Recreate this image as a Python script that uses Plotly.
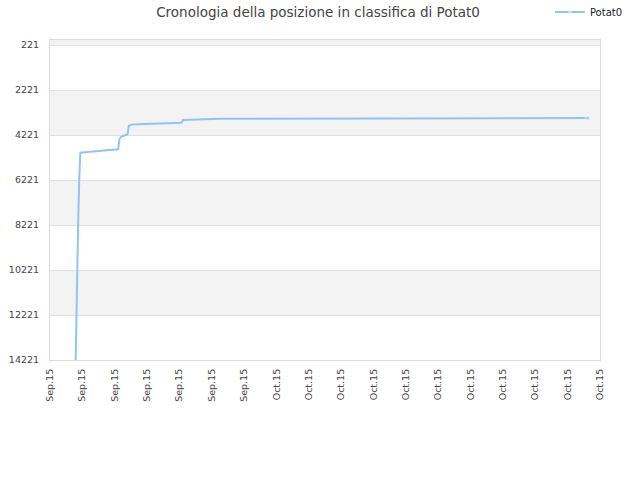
import plotly.graph_objects as go

# Rank history of Potat0 (lower is better)
dates = [
    "2015-09-19 14:00", "2015-09-19 14:40", "2015-09-19 16:30", "2015-09-19 18:00",
    "2015-09-19 19:30", "2015-09-19 21:00", "2015-09-20 04:00", "2015-09-20 20:00",
    "2015-09-21 12:00", "2015-09-22 05:00", "2015-09-22 07:00", "2015-09-22 09:30",
    "2015-09-22 19:00", "2015-09-22 21:00", "2015-09-23 01:00", "2015-09-23 21:00",
    "2015-09-25 10:00", "2015-09-26 03:00", "2015-09-26 05:00", "2015-09-27 00:30",
    "2015-09-28 12:00", "2015-10-21 06:00",
]
ranks = [
    14400, 12930, 10350, 7780,
    6090, 5010, 4990, 4960,
    4900, 4860, 4410, 4300,
    4190, 3810, 3760, 3730,
    3700, 3675, 3555, 3525,
    3497, 3470,
]

y_ticks = [221, 2221, 4221, 6221, 8221, 10221, 12221, 14221]

fig = go.Figure()

fig.add_trace(go.Scatter(
    x=dates, y=ranks, name="Potat0",
    mode="lines+markers",
    line=dict(color="#90c4f5", width=2),
    marker=dict(size=[0] * (len(ranks) - 1) + [4], color="#90c4f5", symbol="square"),
))

# alternating grey bands like the original chart
bands = [(y_ticks[0] - 2000, y_ticks[0])] + [
    (y_ticks[i], y_ticks[i + 1]) for i in range(1, len(y_ticks) - 1, 2)
]
for lo, hi in bands:
    fig.add_shape(type="rect", xref="paper", yref="y", x0=0, x1=1,
                  y0=max(lo, -1), y1=hi, fillcolor="#f3f3f3",
                  line=dict(width=0), layer="below")

fig.update_layout(
    width=640, height=480,
    margin=dict(l=50, r=40, t=40, b=120, autoexpand=False),
    paper_bgcolor="white", plot_bgcolor="white",
    font=dict(family="DejaVu Sans", size=10, color="#444"),
    title=dict(text="Cronologia della posizione in classifica di Potat0",
               x=0.497, xanchor="center", y=0.975, yanchor="middle",
               font=dict(size=13.5, color="#444")),
    showlegend=True,
    legend=dict(x=0.909, xanchor="left", y=1.0875, yanchor="middle",
                font=dict(size=10, color="#222"), bgcolor="rgba(0,0,0,0)"),
    xaxis=dict(
        type="date", range=["2015-09-18", "2015-10-22"],
        tick0="2015-09-18", dtick=2 * 86400000, tickformat="%b.%y",
        tickangle=-90, showgrid=False, zeroline=False,
        showline=True, linecolor="#dcdcdc", mirror=True, automargin=False,
        ticks="", ticklabelstandoff=4, tickfont=dict(size=9.5, color="#444"),
    ),
    yaxis=dict(
        range=[14221, -1], tickvals=y_ticks, tickformat="d",
        showgrid=True, gridcolor="#e0e0e0", zeroline=False,
        showline=True, linecolor="#dcdcdc", mirror=True, automargin=False,
        ticks="", ticklabelstandoff=8, tickfont=dict(size=9.5, color="#444"),
    ),
)

# drop the default 8px body margin so the chart sits at the page corner
fig.write_html("out.html", config={"displayModeBar": False},
               post_script="document.body.style.margin='0px';")
